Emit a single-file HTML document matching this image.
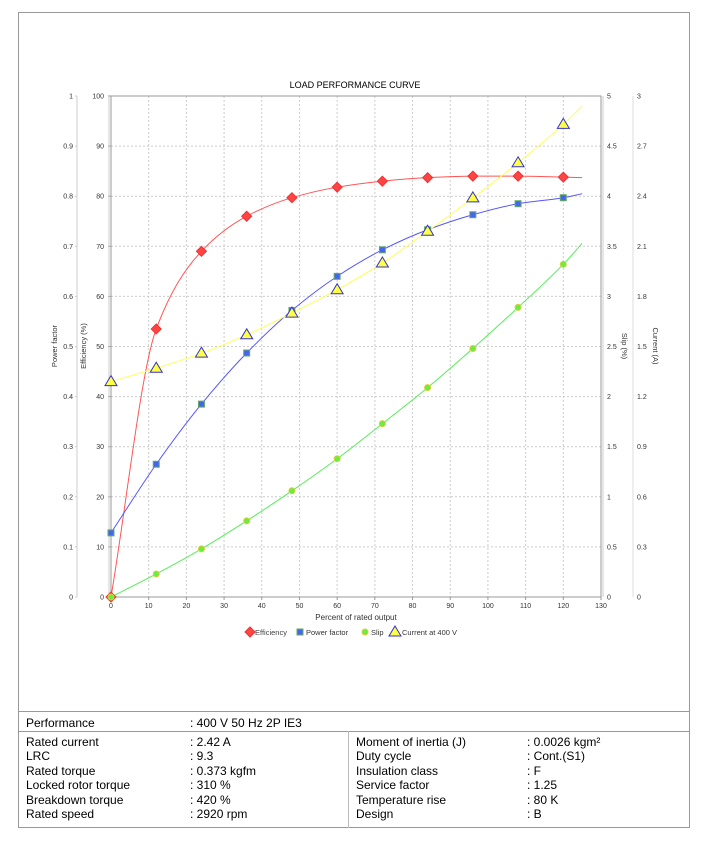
<!DOCTYPE html>
<html><head><meta charset="utf-8"><style>
body{margin:0;background:#fff;font-family:"Liberation Sans",sans-serif}
#frame{position:absolute;left:18px;top:12px;width:672px;height:816px;border:1px solid #999;box-sizing:border-box}
svg{position:absolute;left:0;top:0}
.tb{position:absolute;font-size:12px;color:#000}
</style></head><body>
<div id="frame"></div>
<svg id="chart" width="713" height="712"></svg>
<div>
<div style="position:absolute;left:18px;top:711px;width:672px;border-top:1px solid #999"></div>
<div style="position:absolute;left:18px;top:731px;width:672px;border-top:1px solid #999"></div>
<div style="position:absolute;left:348px;top:731px;height:97px;border-left:1px solid #bbb"></div>
<div class="tb" style="left:26px;top:716px">Performance</div>
<div class="tb" style="left:190px;top:716px">: 400 V 50 Hz 2P IE3</div>
<div class="tb" style="left:26px;top:735px;line-height:14.4px">Rated current<br>LRC<br>Rated torque<br>Locked rotor torque<br>Breakdown torque<br>Rated speed</div>
<div class="tb" style="left:190px;top:735px;line-height:14.4px">: 2.42 A<br>: 9.3<br>: 0.373 kgfm<br>: 310 %<br>: 420 %<br>: 2920 rpm</div>
<div class="tb" style="left:356px;top:735px;line-height:14.4px">Moment of inertia (J)<br>Duty cycle<br>Insulation class<br>Service factor<br>Temperature rise<br>Design</div>
<div class="tb" style="left:527px;top:735px;line-height:14.4px">: 0.0026 kgm²<br>: Cont.(S1)<br>: F<br>: 1.25<br>: 80 K<br>: B</div>
</div>
<script>
const xPts=[0,12,24,36,48,60,72,84,96,108,120];
const effVals=[0,53.5,69,76,79.7,81.8,83,83.7,84,84,83.8];
const pfVals=[0.128,0.265,0.385,0.487,0.572,0.64,0.693,0.733,0.763,0.785,0.797];
const slipVals=[0,0.23,0.48,0.76,1.06,1.38,1.73,2.09,2.48,2.89,3.32];
const curVals=[1.29,1.37,1.46,1.57,1.70,1.84,2.00,2.19,2.39,2.60,2.83];
const endX=125;
const endVals={eff:83.7,pf:0.805,slip:3.53,cur:2.94};
const xTicks=[0,10,20,30,40,50,60,70,80,90,100,110,120,130];
const effTicks=[0,10,20,30,40,50,60,70,80,90,100];
const pfTicks=["0","0.1","0.2","0.3","0.4","0.5","0.6","0.7","0.8","0.9","1"];
const slipTicks=["0","0.5","1","1.5","2","2.5","3","3.5","4","4.5","5"];
const curTicks=["0","0.3","0.6","0.9","1.2","1.5","1.8","2.1","2.4","2.7","3"];

const NS="http://www.w3.org/2000/svg";
const svg=document.getElementById('chart');
const L=111,R=601,T=96,B=597;
const X=v=>L+v/130*(R-L);
const Ye=v=>B-v/100*(B-T);
const Yp=v=>B-v*(B-T);
const Ys=v=>B-v/5*(B-T);
const Yc=v=>B-v/3*(B-T);
function el(tag,a,p){const e=document.createElementNS(NS,tag);for(const k in a)e.setAttribute(k,a[k]);(p||svg).appendChild(e);return e;}
function txt(s,x,y,a,size,rot){const e=el('text',Object.assign({x:x,y:y,'font-size':size||7,'text-anchor':a||'middle',fill:'#333','font-family':'Liberation Sans, sans-serif'},rot?{transform:`rotate(${rot} ${x} ${y})`}:{}));e.textContent=s;return e;}

let g=el('g',{});
xTicks.forEach(t=>{if(t>0&&t<130)el('line',{x1:X(t),x2:X(t),y1:T,y2:B,stroke:'#ccc','stroke-dasharray':'2,2'},g);});
effTicks.forEach(t=>{if(t>0&&t<100)el('line',{x1:L,x2:R,y1:Ye(t),y2:Ye(t),stroke:'#ccc','stroke-dasharray':'2,2'},g);});
let pb=el('rect',{x:L,y:T,width:R-L,height:B-T,fill:'none',stroke:'#999'});

let t=txt('LOAD PERFORMANCE CURVE',355,88,'middle',9);t.setAttribute('fill','#000');


let ax=el('g',{});
xTicks.forEach(v=>{el('line',{x1:X(v),x2:X(v),y1:B,y2:B+3,stroke:'#999'},ax);txt(String(v),X(v),B+11,'middle',7).setAttribute('fill','#333');});
let xt=txt('Percent of rated output',356,620,'middle',8);

let ea=el('g',{});
effTicks.forEach(v=>{el('line',{x1:L-3,x2:L,y1:Ye(v),y2:Ye(v),stroke:'#999'},ea);txt(String(v),104,Ye(v)+2.5,'end',7);});
el('line',{x1:109,x2:109,y1:T,y2:B,stroke:'#ccc'},ea);
let pa=el('g',{});
el('line',{x1:77,x2:77,y1:T,y2:B,stroke:'#ccc'},pa);
pfTicks.forEach((s,i)=>{el('line',{x1:75,x2:77,y1:Yp(i/10),y2:Yp(i/10),stroke:'#ccc'},pa);txt(s,73,Yp(i/10)+2.5,'end',7);});
let sa=el('g',{});
el('line',{x1:603,x2:603,y1:T,y2:B,stroke:'#ccc'},sa);
slipTicks.forEach((s,i)=>{txt(s,607,Ys(i/2)+2.5,'start',7);});
let ca=el('g',{});
el('line',{x1:633,x2:633,y1:T,y2:B,stroke:'#ddd'},ca);
curTicks.forEach((s,i)=>{txt(s,637,Yc(i*0.3)+2.5,'start',7);});
[['Power factor',57,346,-90,'power-factor-title'],['Efficiency (%)',86,346,-90,'efficiency-title'],['Slip (%)',622,346,90,'slip-title'],['Current (A)',653,346,90,'current-title']].forEach(a=>{const e=txt(a[0],a[1],a[2],'middle',7.5,a[3]);});

function curve(vals,endV,Y,color,name){
  const xs=xPts.concat([endX]).map(X), ys=vals.concat([endV]).map(Y);
  const n=xs.length, dx=[], s=[], m=[];
  for(let i=0;i<n-1;i++){dx[i]=xs[i+1]-xs[i];s[i]=(ys[i+1]-ys[i])/dx[i];}
  m[0]=s[0];m[n-1]=s[n-2];
  for(let i=1;i<n-1;i++){m[i]=(s[i-1]*s[i]<=0)?0:(3*(dx[i-1]+dx[i]))/((2*dx[i]+dx[i-1])/s[i-1]+(dx[i]+2*dx[i-1])/s[i]);}
  let d=`M${xs[0]},${ys[0]}`;
  for(let i=0;i<n-1;i++){const h=dx[i]/3;
    d+=` C${xs[i]+h},${ys[i]+m[i]*h} ${xs[i+1]-h},${ys[i+1]-m[i+1]*h} ${xs[i+1]},${ys[i+1]}`;}
  const e=el('path',{d:d,fill:'none',stroke:color,'stroke-width':1});
  
}
curve(effVals,endVals.eff,Ye,'#f55','efficiency-line');
curve(pfVals,endVals.pf,Yp,'#55f','power-factor-line');
curve(slipVals,endVals.slip,Ys,'#5e5','slip-line');
curve(curVals,endVals.cur,Yc,'#ff5','current-line');

function diamond(x,y,p){return el('path',{d:`M${x},${y-5}L${x+5},${y}L${x},${y+5}L${x-5},${y}Z`,fill:'#f44',stroke:'#e33'},p);}
function square(x,y,p){return el('rect',{x:x-3,y:y-3,width:6,height:6,fill:'#46e',stroke:'#6a6'},p);}
function dot(x,y,p){return el('circle',{cx:x,cy:y,r:3,fill:'#6e4',stroke:'#dc3'},p);}
function tri(x,y,p){return el('path',{d:`M${x},${y-6}L${x+6},${y+4}L${x-6},${y+4}Z`,fill:'#ff4',stroke:'#33c'},p);}
xPts.forEach((x,i)=>{
  let m=diamond(X(x),Ye(effVals[i]));
  m=square(X(x),Yp(pfVals[i]));
  m=dot(X(x),Ys(slipVals[i]));
  m=tri(X(x),Yc(curVals[i]));
});

let lg=el('g',{});
diamond(250,632,lg);txt('Efficiency',255,635,'start',7.5).setAttribute('fill','#444');
square(300,632,lg);txt('Power factor',306,635,'start',7.5);
dot(365,632,lg);txt('Slip',371,635,'start',7.5);
tri(395,632,lg);txt('Current at 400 V',402,635,'start',7.5);
lg.querySelectorAll('text').forEach(e=>lg.appendChild(e));
</script>
</body></html>
